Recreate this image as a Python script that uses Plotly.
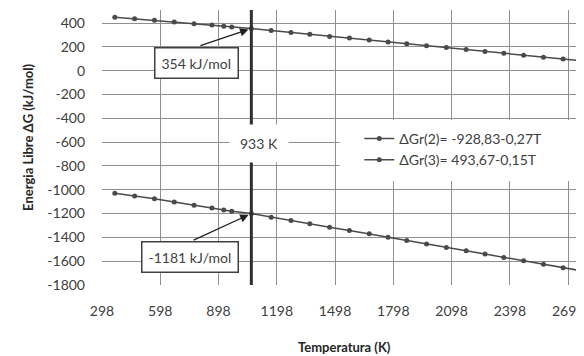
import plotly.graph_objects as go

# Values (x on the chart's own axis scale)
temperatura = [364, 466, 568, 670, 772, 864, 925, 966, 1067, 1169, 1271, 1368, 1470,
               1572, 1674, 1771, 1867, 1969, 2071, 2173, 2270, 2367, 2469, 2571, 2672, 2774]
dgr2 = [-1030, -1052, -1076, -1103, -1130, -1154, -1170, -1180, -1200, -1230, -1258,
        -1285, -1314, -1342, -1370, -1398, -1427, -1455, -1484, -1512, -1540, -1568,
        -1597, -1626, -1655, -1683]
dgr3 = [450, 437, 423, 409, 395, 383, 374, 368, 354, 338, 322, 306, 288, 274, 258,
        242, 226, 210, 194, 178, 162, 146, 130, 114, 98, 82]
nombres = ["ΔGr(2)= -928,83-0,27T", "ΔGr(3)= 493,67-0,15T"]
x_ticks = [298, 598, 898, 1198, 1498, 1798, 2098, 2398, 2698]
y_ticks = [400, 200, 0, -200, -400, -600, -800, -1000, -1200, -1400, -1600, -1800]
t_eq = 1067          # position of the 933 K line on the axis
lbl_t = "933 K"
lbl_top = "354 kJ/mol"
lbl_bot = "-1181 kJ/mol"
i_eq = 8

FONT = "Lato"
DARK = "#404040"
# page has an 8px body margin; figure is sized to fit the 584x356 window
W, H = 576, 348
L, T, B = 94, 2, 71
PW, PH = W - L, H - T - B   # 482 x 275

fig = go.Figure()
for ys, name, grp in [(dgr2, nombres[0], "a"), (dgr3, nombres[1], "b")]:
    fig.add_trace(go.Scatter(
        x=temperatura, y=ys, name=name, mode="lines+markers", legendgroup=grp,
        line=dict(color="#4a4a4a", width=1.5),
        marker=dict(color="#4a4a4a", size=5),
    ))

# white patch behind legend (hides grid)
fig.add_shape(type="rect", xref="paper", yref="paper", x0=(342 - 102) / PW, x1=1.0,
              y0=(285 - 181) / PH, y1=(285 - 120) / PH,
              fillcolor="white", line=dict(width=0), layer="above")

# vertical 933 K line
fig.add_shape(type="line", xref="x", yref="paper", x0=t_eq, x1=t_eq, y0=0, y1=1,
              line=dict(color="#303030", width=3), layer="above")

ann = []
ann.append(dict(x=1108, y=-611, xref="x", yref="y", text=lbl_t, showarrow=False,
                bgcolor="white", borderpad=10, font=dict(family=FONT, size=14, color=DARK)))
ann.append(dict(x=787, y=63, xref="x", yref="y", text=lbl_top, showarrow=False,
                bgcolor="white", bordercolor="#404040", borderwidth=1.5, borderpad=6,
                font=dict(family=FONT, size=14, color=DARK)))
ann.append(dict(x=751, y=-1568, xref="x", yref="y", text=lbl_bot, showarrow=False,
                bgcolor="white", bordercolor="#404040", borderwidth=1.5, borderpad=6,
                font=dict(family=FONT, size=14, color=DARK)))
ann.append(dict(x=temperatura[i_eq], y=dgr3[i_eq], xref="x", yref="y", ax=797, ay=206,
                axref="x", ayref="y", text="", showarrow=True, arrowhead=2, arrowsize=1.3,
                arrowwidth=1.3, arrowcolor="#202020", standoff=3))
ann.append(dict(x=temperatura[i_eq], y=dgr2[i_eq], xref="x", yref="y", ax=762, ay=-1429,
                axref="x", ayref="y", text="", showarrow=True, arrowhead=2, arrowsize=1.3,
                arrowwidth=1.3, arrowcolor="#202020", standoff=3))
ann.append(dict(x=(347 - 102) / PW, y=0, xref="paper", yref="paper", yanchor="top", yshift=-52,
                text="<b>Temperatura (K)</b>", showarrow=False,
                font=dict(family=FONT, size=13, color="#262626")))
ann.append(dict(x=(17 - 102) / PW, y=(285 - 137) / PH, xref="paper", yref="paper",
                textangle=-90, text="<b>Energia Libre ΔG (kJ/mol)</b>", showarrow=False,
                font=dict(family=FONT, size=13, color="#262626")))

fig.update_layout(
    width=W, height=H,
    margin=dict(l=L, r=0, t=T, b=B, pad=0),
    paper_bgcolor="white", plot_bgcolor="white",
    annotations=ann,
    showlegend=True,
    legend=dict(x=(362 - 102) / PW, y=(285 - 123) / PH, xanchor="left", yanchor="top",
                bgcolor="rgba(0,0,0,0)", font=dict(family=FONT, size=14, color=DARK),
                tracegroupgap=4, traceorder="normal"),
    font=dict(family=FONT, color=DARK),
)
fig.update_xaxes(range=[298, 2754], tickvals=x_ticks, ticktext=[str(v) for v in x_ticks],
                 showgrid=True, gridcolor="#8f8f8f", gridwidth=1.4, zeroline=False,
                 showline=False, ticks="", ticklabelstandoff=16, ticklabeloverflow="allow",
                 tickfont=dict(family=FONT, size=14, color=DARK))
fig.update_yaxes(range=[-1800, 510], tickvals=y_ticks, ticktext=[str(v) for v in y_ticks],
                 showgrid=True, gridcolor="#8f8f8f", gridwidth=1.4, zeroline=False,
                 showline=False, ticks="", ticklabelstandoff=16,
                 tickfont=dict(family=FONT, size=14, color=DARK))

fig.write_html("out.html")
